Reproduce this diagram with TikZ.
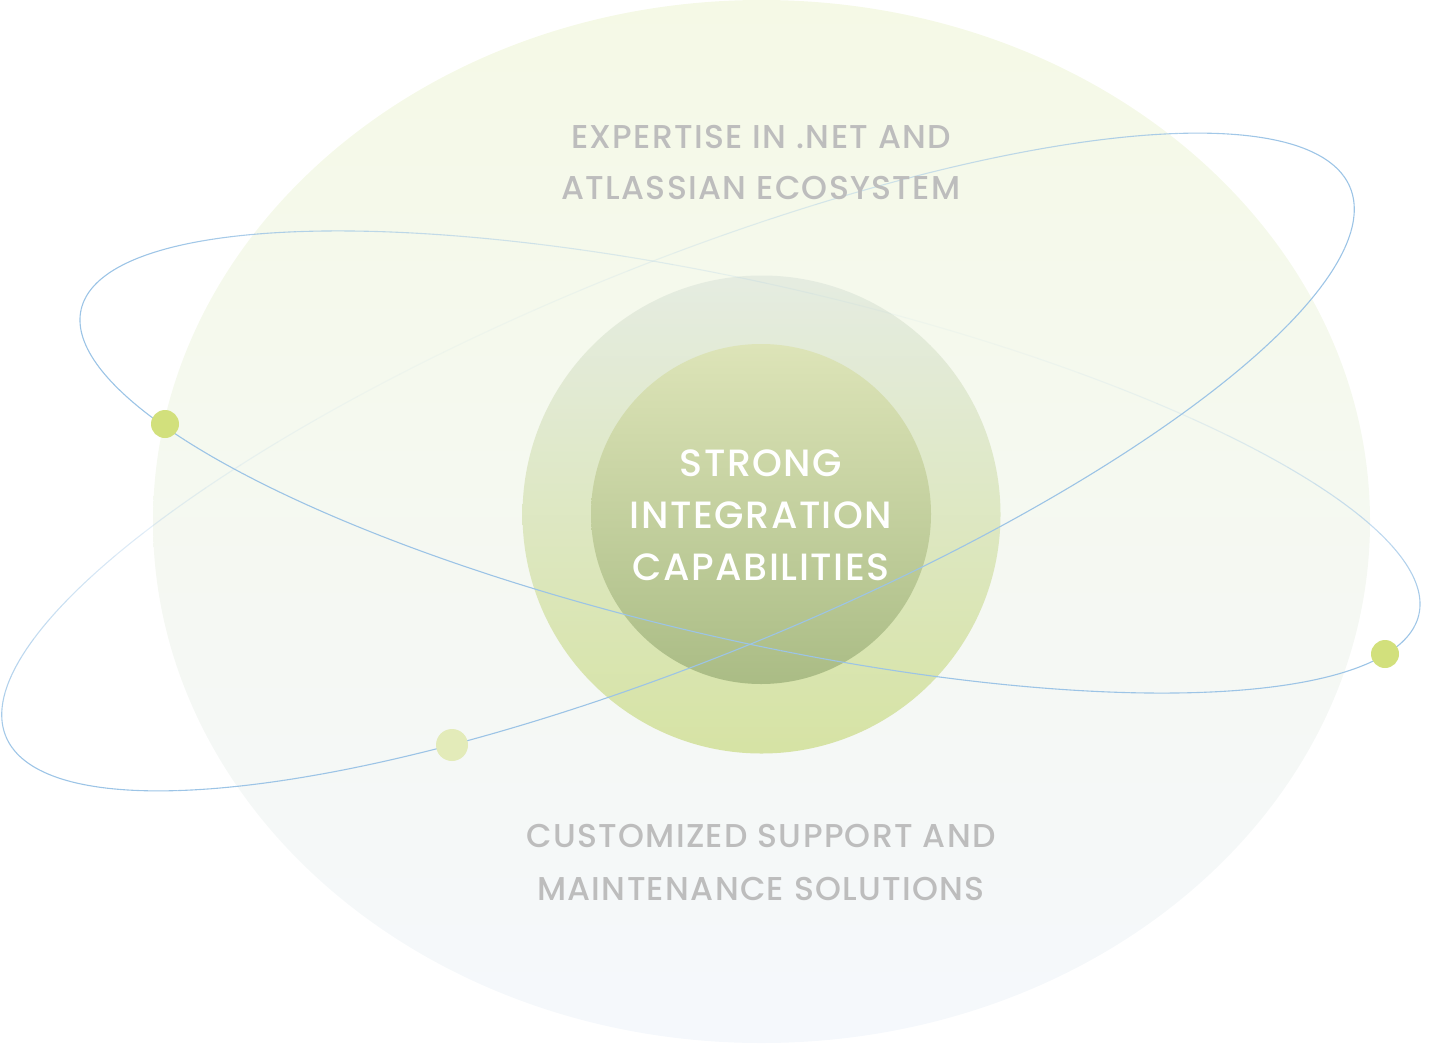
\documentclass[tikz,border=0pt]{standalone}
\usepackage{fontspec}
\setmainfont{Poppins}
\newfontfamily\popmed{Poppins Medium}[LetterSpace=4]
\definecolor{bigtop}{HTML}{F5F9E6}
\definecolor{bigmid}{HTML}{FAFBF6}
\definecolor{bigbot}{HTML}{F5F8FC}
\definecolor{outtop}{HTML}{E5ECE1}
\definecolor{outbot}{HTML}{D6E3A4}
\definecolor{intop}{HTML}{DDE4B8}
\definecolor{inbot}{HTML}{AABC85}
\definecolor{orbitblue}{HTML}{9CC4E6}
\definecolor{dotgreen}{HTML}{D2E07C}
\definecolor{dotpale}{HTML}{E3EBB9}
\definecolor{graytext}{HTML}{BDBDBD}
\tikzset{
  orbitline/.style={draw=orbitblue, line width=1.1pt, line cap=butt, line join=round},
  orbdot/.style={circle, inner sep=0pt, minimum size=28pt, fill=dotgreen},
  graylabel/.style={text=graytext, font=\popmed\fontsize{33}{40}\selectfont, inner sep=0pt, anchor=base},
  centerlabel/.style={text=white, font=\popmed\fontsize{38}{46}\selectfont, inner sep=0pt, anchor=base}
}
\begin{document}
\begin{tikzpicture}[x=1pt,y=-1pt]
\useasboundingbox (0,0) rectangle (1429,1044);
% big background ellipse
\path[top color=bigtop, middle color=bigmid, bottom color=bigbot] (761.5,521.5) ellipse [x radius=608.5, y radius=521.5];
% circles
\node[circle, inner sep=0pt, minimum size=478pt, top color=outtop, bottom color=outbot] (outer) at (761.5,514.5) {};
\node[circle, inner sep=0pt, minimum size=340pt, top color=intop, bottom color=inbot] (inner) at (761,514) {};
% orbit 1: centre (750,462), a=686, b=178, tilt 12.85 deg (right end lower)
\foreach \t in {0,4,...,356}{
  \pgfmathsetmacro\te{\t+4}
  \pgfmathsetmacro\s{max(cos(\t+2-75),0)}
  \pgfmathsetmacro\op{1-0.93*\s*\s}
  \draw[orbitline, draw opacity=\op] plot[domain=\t:\te, samples=5]
    ({750 + 686*cos(\x)*0.9750 + 178*sin(\x)*0.2224}, {462 + 686*cos(\x)*0.2224 - 178*sin(\x)*0.9750});
}
% orbit 2: centre (678,462), a=726, b=196, tilt 22.2 deg (right end higher)
\foreach \t in {0,4,...,356}{
  \pgfmathsetmacro\te{\t+4}
  \pgfmathsetmacro\s{max(cos(\t+2-105),0)}
  \pgfmathsetmacro\op{1-0.93*\s*\s}
  \draw[orbitline, draw opacity=\op] plot[domain=\t:\te, samples=5]
    ({678 + 726*cos(\x)*0.9259 - 196*sin(\x)*0.3778}, {462 - 726*cos(\x)*0.3778 - 196*sin(\x)*0.9259});
}
% dots
\node[orbdot] (dotA) at (165,424) {};
\node[orbdot] (dotB) at (1385,654) {};
\node[orbdot, fill=dotpale, minimum size=32pt] (dotC) at (452,745) {};
% texts
\node[graylabel] (topA) at (761,148) {EXPERTISE IN .NET AND};
\node[graylabel] (topB) at (761,199) {ATLASSIAN ECOSYSTEM};
\node[graylabel] (botA) at (761,847) {CUSTOMIZED SUPPORT AND};
\node[graylabel] (botB) at (761,900) {MAINTENANCE SOLUTIONS};
\node[centerlabel] (cenA) at (761,476) {STRONG};
\node[centerlabel] (cenB) at (761,528) {INTEGRATION};
\node[centerlabel] (cenC) at (761,580) {CAPABILITIES};
\end{tikzpicture}
\end{document}
